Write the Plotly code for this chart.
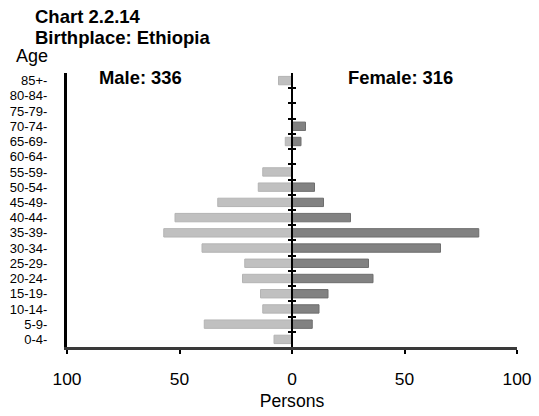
import plotly.graph_objects as go

ages = ["0-4", "5-9", "10-14", "15-19", "20-24", "25-29", "30-34", "35-39", "40-44",
        "45-49", "50-54", "55-59", "60-64", "65-69", "70-74", "75-79", "80-84", "85+"]
male = [8, 39, 13, 14, 22, 21, 40, 57, 52, 33, 15, 13, 0, 3, 0, 0, 0, 6]
female = [0, 9, 12, 16, 36, 34, 66, 83, 26, 14, 10, 0, 0, 4, 6, 0, 0, 0]
x_tickvals = [-100, -50, 0, 50, 100]
x_ticktext = ["100", "50", "0", "50", "100"]
title_lines = ["Chart 2.2.14", "Birthplace: Ethiopia"]
male_label = "Male: 336"
female_label = "Female: 316"

FONT = "Liberation Sans, Arial, sans-serif"

fig = go.Figure()
fig.add_trace(go.Bar(
    y=ages, x=[-v for v in male], orientation="h", name="Male",
    marker=dict(color="#c0c0c0", line=dict(color="#b4b4b4", width=1)),
))
fig.add_trace(go.Bar(
    y=ages, x=female, orientation="h", name="Female",
    marker=dict(color="#828282", line=dict(color="#6e6e6e", width=1)),
))

n = len(ages)
boundaries = [i + 0.5 for i in range(n - 1)]

# invisible helper traces so the centre axes are drawn
for ax in ("y2", "y3"):
    fig.add_trace(go.Scatter(x=[0], y=[0], yaxis=ax, mode="markers",
                             marker=dict(opacity=0), showlegend=False, hoverinfo="skip"))

fig.update_layout(
    width=539, height=416,
    margin=dict(l=67, r=22, t=73, b=69),
    paper_bgcolor="white", plot_bgcolor="white",
    showlegend=False,
    barmode="overlay", bargap=0.45,
    font=dict(family=FONT, color="black"),
    xaxis=dict(
        range=[-100, 100], tickvals=x_tickvals, ticktext=x_ticktext,
        automargin=False,
        showgrid=False, zeroline=False,
        showline=True, linecolor="#3a3a3a", linewidth=3,
        ticks="outside", ticklen=4, tickwidth=2, tickcolor="black",
        ticklabelstandoff=10,
        tickfont=dict(size=17.4),
        title=dict(text="Persons", font=dict(size=17.6), standoff=7),
    ),
    yaxis=dict(
        categoryorder="array", categoryarray=ages,
        tickvals=ages, ticktext=[a + "-" for a in ages],
        range=[-0.5, n - 0.5], automargin=False,
        showgrid=False, zeroline=False,
        showline=True, linecolor="black", linewidth=3,
        ticks="", ticklabelstandoff=14,
        tickfont=dict(size=13),
    ),
    yaxis2=dict(
        overlaying="y", anchor="free", position=0.5, side="left",
        range=[-0.5, n - 0.5], tickvals=boundaries, showticklabels=False,
        automargin=False,
        showgrid=False, zeroline=False,
        showline=True, linecolor="black", linewidth=2,
        ticks="outside", ticklen=3, tickwidth=2, tickcolor="black",
    ),
    yaxis3=dict(
        overlaying="y", anchor="free", position=0.5, side="right",
        range=[-0.5, n - 0.5], tickvals=boundaries, showticklabels=False,
        automargin=False,
        showgrid=False, zeroline=False, showline=False,
        ticks="outside", ticklen=3, tickwidth=2, tickcolor="black",
    ),
)

ann = [
    dict(text="<b>%s</b>" % title_lines[0], x=-0.0756, y=1.208, size=18.5),
    dict(text="<b>%s</b>" % title_lines[1], x=-0.0756, y=1.128, size=18.5),
    dict(text="Age", x=-0.1178, y=1.062, size=18),
]
for a in ann:
    fig.add_annotation(text=a["text"], xref="paper", yref="paper", x=a["x"], y=a["y"],
                       xanchor="left", yanchor="middle", showarrow=False,
                       font=dict(size=a["size"], family=FONT, color="black"))
fig.add_annotation(text="<b>%s</b>" % male_label, xref="paper", yref="paper", x=0.1644, y=0.985,
                   xanchor="center", yanchor="middle", showarrow=False,
                   font=dict(size=18.4, family=FONT, color="black"))
fig.add_annotation(text="<b>%s</b>" % female_label, xref="paper", yref="paper", x=0.742, y=0.985,
                   xanchor="center", yanchor="middle", showarrow=False,
                   font=dict(size=18.4, family=FONT, color="black"))

fig.write_html("out.html", config={"displayModeBar": False},
               post_script="document.body.style.margin='0';")
